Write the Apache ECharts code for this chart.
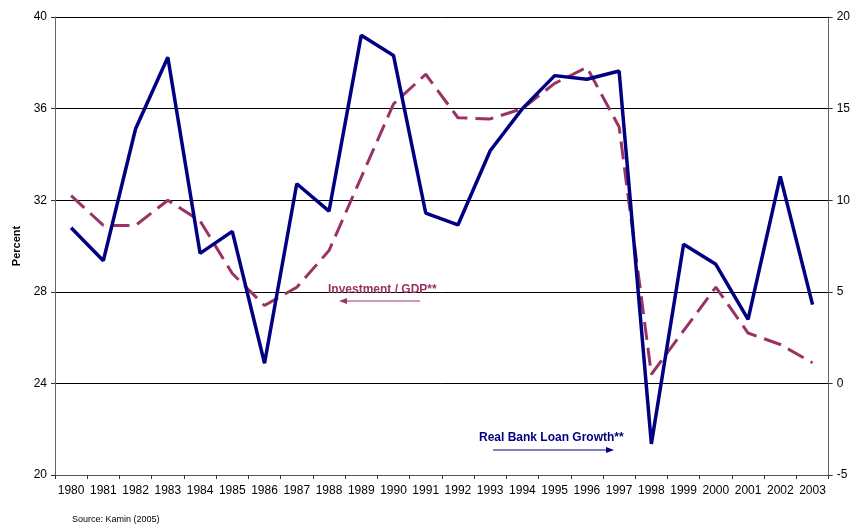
<!DOCTYPE html>
<html>
<head>
<meta charset="utf-8">
<script src="https://cdn.jsdelivr.net/npm/echarts@6/dist/echarts.min.js"></script>
<style>
  html, body { margin: 0; padding: 0; background: #fff; }
  #main { width: 853px; height: 530px; }
</style>
</head>
<body>
<div id="main"></div>
<script>
// 年份
const years = ['1980', '1981', '1982', '1983', '1984', '1985', '1986', '1987', '1988', '1989',
    '1990', '1991', '1992', '1993', '1994', '1995', '1996', '1997', '1998', '1999',
    '2000', '2001', '2002', '2003'];
// Investment / GDP (left axis, percent)
const investGdp = [32.2, 30.9, 30.9, 32.0, 31.1, 28.8, 27.4, 28.2, 29.8, 33.0,
    36.2, 37.5, 35.6, 35.55, 36.0, 37.1, 37.8, 35.2, 24.4, 26.3,
    28.2, 26.2, 25.7, 24.9];
// Real bank loan growth (right axis)
const loanGrowth = [8.5, 6.7, 13.9, 17.8, 7.1, 8.3, 1.1, 10.9, 9.4, 19.0,
    17.9, 9.3, 8.65, 12.7, 15.0, 16.8, 16.6, 17.05, -3.3, 7.6,
    6.5, 3.5, 11.3, 4.3];
const leftTicks = {min: 20, max: 40, interval: 4};
const rightTicks = {min: -5, max: 20, interval: 5};

const myChart = echarts.init(document.getElementById('main'));
const font = 'Liberation Sans, Arial, sans-serif';

const option = {
    animation: false,
    textStyle: {fontFamily: font},
    grid: {left: 55, right: 23, top: 17, bottom: 55},
    xAxis: {
        type: 'category',
        data: years,
        boundaryGap: true,
        axisLine: {onZero: false, lineStyle: {color: '#555', width: 1}},
        axisTick: {show: true, alignWithLabel: false, length: 4, lineStyle: {color: '#333'}},
        axisLabel: {color: '#000', fontSize: 12, interval: 0, margin: 10, fontFamily: font}
    },
    yAxis: [
        {
            type: 'value',
            min: leftTicks.min, max: leftTicks.max, interval: leftTicks.interval,
            name: 'Percent',
            nameLocation: 'middle',
            nameGap: 32,
            nameTextStyle: {fontWeight: 'bold', fontSize: 11, color: '#000', fontFamily: font},
            axisLine: {show: true, lineStyle: {color: '#666'}},
            axisTick: {show: true, length: 4, lineStyle: {color: '#333'}},
            axisLabel: {color: '#000', fontSize: 12, margin: 8, fontFamily: font},
            splitLine: {show: true, lineStyle: {color: '#000', width: 1}}
        },
        {
            type: 'value',
            min: rightTicks.min, max: rightTicks.max, interval: rightTicks.interval,
            position: 'right',
            axisLine: {show: true, lineStyle: {color: '#666'}},
            axisTick: {show: true, length: 4, lineStyle: {color: '#333'}},
            axisLabel: {color: '#000', fontSize: 12, margin: 8, fontFamily: font},
            splitLine: {show: false}
        }
    ],
    series: [
        {
            name: 'Investment / GDP**',
            type: 'line',
            yAxisIndex: 0,
            data: investGdp,
            symbol: 'none',
            lineStyle: {color: '#993366', width: 3, type: [18, 8]},
            z: 2
        },
        {
            name: 'Real Bank Loan Growth**',
            type: 'line',
            yAxisIndex: 1,
            data: loanGrowth,
            symbol: 'none',
            lineStyle: {color: '#000080', width: 3.5},
            z: 3
        }
    ],
    graphic: [
        // labels with arrows
        {type: 'text', left: 328, top: 284, z: 10,
            style: {text: 'Investment / GDP**', fill: '#993366', font: 'bold 12px ' + font}},
        {type: 'line', z: 10, shape: {x1: 420, y1: 301, x2: 346, y2: 301},
            style: {stroke: '#993366', lineWidth: 1}},
        {type: 'polygon', z: 10, shape: {points: [[339, 301], [347, 298], [347, 304]]},
            style: {fill: '#993366'}},
        {type: 'text', left: 479, top: 432, z: 10,
            style: {text: 'Real Bank Loan Growth**', fill: '#000080', font: 'bold 12px ' + font}},
        {type: 'line', z: 10, shape: {x1: 493, y1: 450, x2: 607, y2: 450},
            style: {stroke: '#000080', lineWidth: 1}},
        {type: 'polygon', z: 10, shape: {points: [[614, 450], [606, 447], [606, 453]]},
            style: {fill: '#000080'}},
        {type: 'text', left: 72, top: 515, z: 10,
            style: {text: 'Source: Kamin (2005)', fill: '#000', font: '9px ' + font}}
    ]
};

myChart.setOption(option);
</script>
</body>
</html>
